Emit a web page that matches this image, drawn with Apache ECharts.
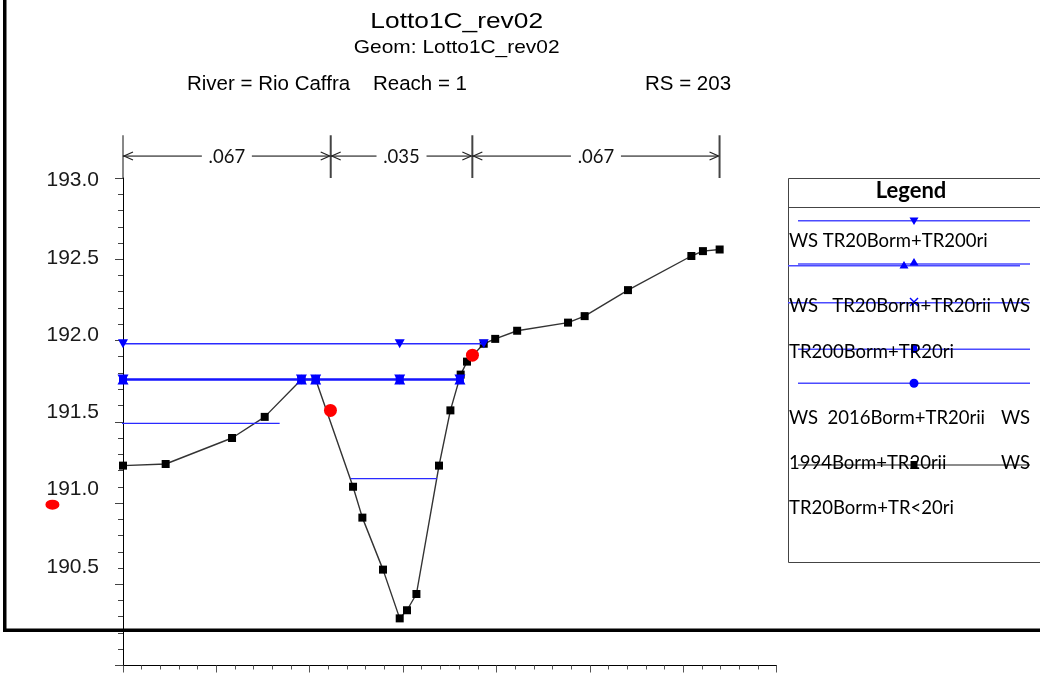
<!DOCTYPE html>
<html><head><meta charset="utf-8">
<script src="https://cdn.jsdelivr.net/npm/echarts@6/dist/echarts.min.js"></script>
<style>html,body{margin:0;padding:0;background:#fff}#c{width:1040px;height:675px}</style>
</head><body><div id="c"></div>
<script>
// ---------- data ----------
const groundX = [0, 4.57, 11.68, 15.18, 19.11, 20.64, 24.64, 25.64, 27.85, 29.64, 30.42, 31.43, 33.85, 35.07, 36.17, 36.85, 38.64, 39.87, 42.22, 47.67, 49.45, 54.09, 60.88, 62.12, 63.91];
const groundY = [191.23, 191.24, 191.40, 191.53, 191.76, 191.76, 191.10, 190.91, 190.59, 190.29, 190.34, 190.44, 191.23, 191.57, 191.79, 191.87, 191.98, 192.01, 192.06, 192.11, 192.15, 192.31, 192.52, 192.55, 192.56];
const wsAX = [0, 29.64, 38.64];            // WS TR20Borm+TR200ri
const wsAY = 191.98;
const wsBX = [0, 19.11, 20.64, 29.64, 36.09]; // overlapping WS profiles
const wsBY = 191.76;
const wsCX = [-8.03, 16.78];
const wsCY = 191.49;
const wsDX = [24.39, 33.63];
const wsDY = 191.15;
const redX = [22.22, 37.43, -7.56];
const redY = [191.57, 191.91, 190.99];
const roughStations = [0, 22.25, 37.42, 63.9];
const roughValues = ['.067', '.035', '.067'];
const yTickLabels = [190.5, 191.0, 191.5, 192.0, 192.5, 193.0];
const titleText = 'Lotto1C_rev02';
const geomText = 'Geom: Lotto1C_rev02';
const riverText = 'River = Rio Caffra';
const reachText = 'Reach = 1';
const rsText = 'RS = 203';
const legendTitle = 'Legend';
const legendLeftTexts = ['WS TR20Borm+TR200ri', 'WS   TR20Borm+TR20rii', 'TR200Borm+TR20ri', 'WS  2016Borm+TR20rii', '1994Borm+TR20rii', 'TR20Borm+TR<20ri'];
const legendRightTexts = ['', 'WS', '', 'WS', 'WS', ''];

// ---------- layout constants ----------
const ROUGH_Y = 193.135, BAR_TOP = 193.263, BAR_BOT = 193.0;
const legendTextY = [241, 306, 351.7, 418.3, 463.5, 508.3];
const BLUE = '#2a2aff', MBLUE = '#0000ff', LBLUE = '#4b4bff';

const chart = echarts.init(document.getElementById('c'), null, {renderer: 'canvas'});

function roughRender(params, api) {
  const i = params.dataIndex;
  const p0 = api.coord([api.value(0), ROUGH_Y]);
  const p1 = api.coord([api.value(1), ROUGH_Y]);
  const yTop = api.coord([0, BAR_TOP])[1];
  const yBot = api.coord([0, BAR_BOT])[1];
  const y = p0[1], x0 = p0[0], x1 = p1[0];
  const xm = (x0 + x1) / 2, gap = 25;
  const st = {stroke: '#000', lineWidth: 1};
  const ch = [
    {type: 'line', shape: {x1: x0, y1: y, x2: xm - gap, y2: y}, style: st},
    {type: 'line', shape: {x1: xm + gap, y1: y, x2: x1, y2: y}, style: st},
    {type: 'polyline', shape: {points: [[x0 + 10, y - 4], [x0 + 1, y], [x0 + 10, y + 4]]}, style: {stroke: '#222', lineWidth: 1.2, fill: null}},
    {type: 'polyline', shape: {points: [[x1 - 10, y - 4], [x1 - 1, y], [x1 - 10, y + 4]]}, style: {stroke: '#222', lineWidth: 1.2, fill: null}},
    {type: 'text', style: {x: xm, y: y + 1, text: roughValues[i], fill: '#111', font: '18.5px Lato', align: 'center', verticalAlign: 'middle'}},
    {type: 'line', shape: {x1: x1, y1: yTop, x2: x1, y2: yBot}, style: {stroke: '#444', lineWidth: 2}}
  ];
  if (i === 0) ch.push({type: 'line', shape: {x1: x0, y1: yTop, x2: x0, y2: yBot}, style: {stroke: '#111', lineWidth: 1}});
  return {type: 'group', children: ch};
}

// legend graphic
const LX0 = 798, LX1 = 1030, LM = 914;
const legendChildren = [
  {type: 'rect', shape: {x: 788.5, y: 178.5, width: 260, height: 384}, style: {fill: '#fff', stroke: '#444', lineWidth: 1}},
  {type: 'line', shape: {x1: 788.5, y1: 207.5, x2: 1040, y2: 207.5}, style: {stroke: '#444', lineWidth: 1}},
  {type: 'text', style: {x: 911, y: 191, text: legendTitle, font: 'bold 22px Lato', fill: '#000', align: 'center', verticalAlign: 'middle'}},
  // row symbols
  {type: 'line', shape: {x1: LX0, y1: 220.7, x2: LX1, y2: 220.7}, style: {stroke: LBLUE, lineWidth: 1.6}},
  {type: 'polygon', shape: {points: [[LM - 4.5, 217.5], [LM + 4.5, 217.5], [LM, 225]]}, style: {fill: MBLUE}},
  {type: 'line', shape: {x1: LX0, y1: 264, x2: LX1, y2: 264}, style: {stroke: LBLUE, lineWidth: 1.6}},
  {type: 'line', shape: {x1: 788, y1: 265.7, x2: 1020, y2: 265.7}, style: {stroke: LBLUE, lineWidth: 1.4}},
  {type: 'polygon', shape: {points: [[LM - 4.5, 265.5], [LM + 4.5, 265.5], [LM, 258]]}, style: {fill: MBLUE}},
  {type: 'polygon', shape: {points: [[LM - 14.5, 268.5], [LM - 5.5, 268.5], [LM - 10, 261]]}, style: {fill: MBLUE}},
  {type: 'line', shape: {x1: 788, y1: 302.7, x2: LX1, y2: 302.7}, style: {stroke: LBLUE, lineWidth: 1.6}},
  {type: 'line', shape: {x1: LM - 4, y1: 298, x2: LM + 4, y2: 306}, style: {stroke: MBLUE, lineWidth: 1.5}},
  {type: 'line', shape: {x1: LM + 4, y1: 298, x2: LM - 4, y2: 306}, style: {stroke: MBLUE, lineWidth: 1.5}},
  {type: 'line', shape: {x1: LX0, y1: 349.3, x2: LX1, y2: 349.3}, style: {stroke: LBLUE, lineWidth: 1.6}},
  {type: 'rect', shape: {x: LM - 3, y: 345, width: 6, height: 8}, style: {fill: MBLUE}},
  {type: 'line', shape: {x1: LX0, y1: 383.3, x2: LX1, y2: 383.3}, style: {stroke: LBLUE, lineWidth: 1.6}},
  {type: 'circle', shape: {cx: LM, cy: 383.3, r: 4.5}, style: {fill: MBLUE}},
  {type: 'line', shape: {x1: LX0, y1: 465, x2: LX1, y2: 465}, style: {stroke: '#666', lineWidth: 1.6}},
  {type: 'rect', shape: {x: LM - 3.5, y: 461, width: 7, height: 8}, style: {fill: '#000'}}
];
legendLeftTexts.forEach((t, i) => {
  legendChildren.push({type: 'text', style: {x: 789, y: legendTextY[i], text: t, font: '18.5px Lato', fill: '#000', align: 'left', verticalAlign: 'middle'}});
  if (legendRightTexts[i]) legendChildren.push({type: 'text', style: {x: 1030, y: legendTextY[i], text: legendRightTexts[i], font: '18.5px Lato', fill: '#000', align: 'right', verticalAlign: 'middle'}});
});

const option = {
  animation: false,
  grid: {left: 123, top: 178, width: 653.5, height: 487.5, containLabel: false},
  xAxis: {
    type: 'value', min: 0, max: 70, interval: 10,
    axisLine: {onZero: false, lineStyle: {color: '#000', width: 1}},
    axisTick: {show: true, inside: false, length: 7, lineStyle: {color: '#555'}},
    minorTick: {show: true, splitNumber: 5, length: 4, lineStyle: {color: '#555'}},
    axisLabel: {show: false}, splitLine: {show: false}
  },
  yAxis: [{
    type: 'value', min: 190, max: 193, interval: 0.5,
    axisLine: {show: true, onZero: false, lineStyle: {color: '#000', width: 1}},
    axisTick: {show: true, length: 8, lineStyle: {color: '#444'}},
    minorTick: {show: true, splitNumber: 5, length: 5, lineStyle: {color: '#444'}},
    axisLabel: {show: false}, splitLine: {show: false}
  }, {
    type: 'value', min: 189.861, max: 193.016, position: 'left', offset: 0,
    axisLine: {show: false}, axisTick: {show: false}, splitLine: {show: false},
    axisLabel: {show: true, customValues: yTickLabels, margin: 24, color: '#1a1a1a',
      fontFamily: 'Liberation Sans', fontSize: 21, formatter: v => Number(v).toFixed(1)}
  }],
  graphic: [
    {type: 'rect', shape: {x: 3, y: 0, width: 3.5, height: 632}, style: {fill: '#000'}, z: 100},
    {type: 'rect', shape: {x: 3, y: 628.5, width: 1040, height: 3.5}, style: {fill: '#000'}, z: 100},
    {type: 'text', x: 456.7, y: 22, scaleX: 1.17, style: {x: 0, y: 0, text: titleText, font: '22.5px "Liberation Sans"', fill: '#000', align: 'center', verticalAlign: 'middle'}},
    {type: 'text', x: 456.7, y: 48, scaleX: 1.13, style: {x: 0, y: 0, text: geomText, font: '18.5px "Liberation Sans"', fill: '#000', align: 'center', verticalAlign: 'middle'}},
    {type: 'text', x: 187, y: 84, style: {x: 0, y: 0, text: riverText, font: '20.5px "Liberation Sans"', fill: '#000', align: 'left', verticalAlign: 'middle'}},
    {type: 'text', x: 373, y: 84, style: {x: 0, y: 0, text: reachText, font: '20.5px "Liberation Sans"', fill: '#000', align: 'left', verticalAlign: 'middle'}},
    {type: 'text', x: 645, y: 84, style: {x: 0, y: 0, text: rsText, font: '20.5px "Liberation Sans"', fill: '#000', align: 'left', verticalAlign: 'middle'}},
    {type: 'group', children: legendChildren, z: 50}
  ],
  series: [
    {type: 'line', name: 'Ground', data: groundX.map((x, i) => [x, groundY[i]]), symbol: 'rect', symbolSize: 8,
      itemStyle: {color: '#000'}, lineStyle: {color: '#333', width: 1.4}, clip: false, z: 2},
    {type: 'line', data: wsCX.map(x => [x, wsCY]), symbol: 'none', lineStyle: {color: BLUE, width: 1.2}, clip: false, z: 3},
    {type: 'line', data: wsDX.map(x => [x, wsDY]), symbol: 'none', lineStyle: {color: BLUE, width: 1.2}, clip: false, z: 3},
    {type: 'line', data: wsAX.map(x => [x, wsAY]), symbol: 'triangle', symbolRotate: 180, symbolSize: [10, 9],
      itemStyle: {color: MBLUE}, lineStyle: {color: BLUE, width: 1.6}, clip: false, z: 4},
    {type: 'line', data: wsBX.map(x => [x, wsBY]), symbol: 'triangle', symbolSize: [11, 10],
      itemStyle: {color: MBLUE}, lineStyle: {color: '#1515ff', width: 2.6}, clip: false, z: 4},
    {type: 'scatter', data: wsBX.map(x => [x, wsBY]), symbol: 'triangle', symbolRotate: 180, symbolSize: [11, 10],
      itemStyle: {color: MBLUE, opacity: 1}, clip: false, z: 5},
    {type: 'scatter', data: wsBX.map(x => [x, wsBY]), symbol: 'rect', symbolSize: 8,
      itemStyle: {color: MBLUE, opacity: 1}, clip: false, z: 5},
    {type: 'scatter', data: redX.map((x, i) => ({value: [x, redY[i]], symbolSize: i === 2 ? [14, 10] : 13})),
      symbol: 'circle', itemStyle: {color: '#ff0000', opacity: 1}, clip: false, z: 6},
    {type: 'custom', data: roughValues.map((v, i) => [roughStations[i], roughStations[i + 1], ROUGH_Y]),
      encode: {x: [0, 1], y: 2}, renderItem: roughRender, clip: false, z: 7, silent: true}
  ]
};
chart.setOption(option);
</script></body></html>
